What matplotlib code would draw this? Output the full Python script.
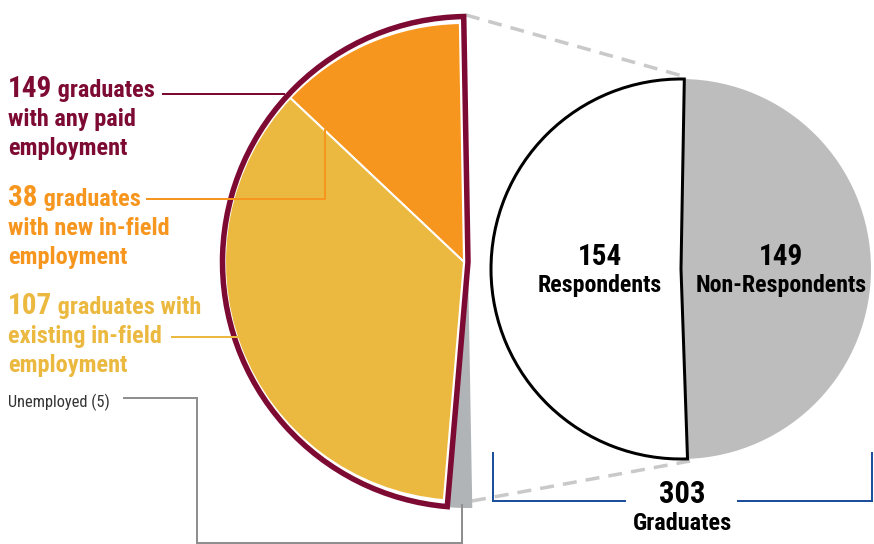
import matplotlib
matplotlib.use("Agg")
import matplotlib.pyplot as plt
from matplotlib import font_manager
from matplotlib.patches import Wedge

# %% data
total_graduates = 303
response_labels = ["Respondents", "Non-Respondents"]
response_counts = [154, 149]
employed_count = 149
infield_labels = ["new in-field", "existing in-field"]
infield_counts = [38, 107]
unemployed_count = 5

# %% style
names = {f.name for f in font_manager.fontManager.ttflist}
wanted = ["Roboto Condensed", "Archivo Narrow", "PT Sans Narrow", "Fira Sans Condensed",
          "Barlow Condensed", "IBM Plex Sans Condensed", "Liberation Sans Narrow"]
narrow = next((n for n in wanted if n in names), "DejaVu Sans")
plt.rcParams["font.family"] = [narrow, "DejaVu Sans"]

MAROON = "#7d0a33"
ORANGE = "#f7961e"
GOLD = "#ecb940"
SLIVER = "#b1b4b7"
NONRESP = "#bdbdbd"
BLUE = "#1c4f9c"
DASH = "#c9c9c9"
LINEGRAY = "#8f8f8f"

W, H = 874, 544
PT = 0.72  # px -> pt at dpi 100


def Y(y):
    return H - y


fig = plt.figure(figsize=(W / 100, H / 100), dpi=100)
ax = fig.add_axes([0, 0, 1, 1])
ax.set_xlim(0, W)
ax.set_ylim(0, H)
ax.axis("off")

# %% connector dashes between the two pies
ax.plot([466, 686], [Y(15), Y(77)], color=DASH, lw=3.5 * PT, dashes=(4, 2.6), zorder=1)
ax.plot([472, 690], [Y(501), Y(461)], color=DASH, lw=3.5 * PT, dashes=(4, 2.6), zorder=1)

# %% right pie: respondents vs non-respondents
rc = (681, Y(269))
rr = 190
r_start = 89
resp_span = response_counts[0] / total_graduates * 360
ax.add_patch(Wedge(rc, rr, r_start + resp_span, r_start + 360, facecolor=NONRESP,
                   edgecolor="none", zorder=2))
ax.add_patch(Wedge(rc, rr, r_start, r_start + resp_span, facecolor="white",
                   edgecolor="black", lw=3 * PT, zorder=3))

for x, n, lab in [(600, response_counts[0], response_labels[0]),
                  (781, response_counts[1], response_labels[1])]:
    ax.text(x, Y(265), str(n), ha="center", va="baseline",
            fontsize=21, fontweight="bold", zorder=5)
    ax.text(x, Y(292), lab, ha="center", va="baseline",
            fontsize=17.2, fontweight="bold", zorder=5)

# %% left pie: breakdown of respondents
lc = (464, Y(262))
lr = 239
l_start = 91
deg = 180 / response_counts[0]
emp_span = employed_count * deg
new_span = emp_span * infield_counts[0] / sum(infield_counts)

ax.add_patch(Wedge((lc[0] + 4, lc[1]), lr + 7, l_start + emp_span,
                   l_start + response_counts[0] * deg, facecolor=SLIVER,
                   edgecolor="none", zorder=2))
ax.add_patch(Wedge(lc, lr, l_start, l_start + new_span, facecolor=ORANGE,
                   edgecolor="white", lw=2 * PT, zorder=3))
ax.add_patch(Wedge(lc, lr, l_start + new_span, l_start + emp_span, facecolor=GOLD,
                   edgecolor="white", lw=2 * PT, zorder=3))
# employed outline sits a few px outside the fills, leaving a white gap
ax.add_patch(Wedge((lc[0] + 4, lc[1]), lr + 6.5, l_start, l_start + emp_span,
                   facecolor="none", edgecolor=MAROON, lw=5.5 * PT,
                   joinstyle="miter", zorder=4))

# %% left labels
def label(lines, top_y, color, big, gap=29):
    num = ax.text(8, Y(top_y), big, color=color, fontsize=21, fontweight="bold",
                  va="baseline", ha="left")
    ax.annotate(" " + lines[0], xy=(1, Y(top_y)), xycoords=(num, "data"),
                color=color, fontsize=17.5, fontweight="bold", va="baseline", ha="left")
    for i, ln in enumerate(lines[1:], start=1):
        ax.text(8, Y(top_y + gap * i), ln, color=color, fontsize=17.5,
                fontweight="bold", va="baseline", ha="left")


label(["graduates", "with any paid", "employment"], 97, MAROON, str(employed_count))
label(["graduates", "with new in-field", "employment"], 206, ORANGE, str(infield_counts[0]))
label(["graduates with", "existing in-field", "employment"], 314, GOLD, str(infield_counts[1]))

ax.plot([163, 284], [Y(94), Y(94)], color=MAROON, lw=2 * PT, zorder=5)
ax.plot([147, 325, 325], [Y(199), Y(199), Y(130)], color=ORANGE, lw=2 * PT, zorder=5)
ax.plot([172, 238], [Y(337), Y(337)], color=GOLD, lw=2 * PT, zorder=5)

ax.text(8, Y(407), f"Unemployed ({unemployed_count})", color="#333333", fontsize=11.8,
        va="baseline", ha="left")
ax.plot([124, 197, 197, 462, 462], [Y(398), Y(398), Y(543), Y(543), Y(505)],
        color=LINEGRAY, lw=2 * PT, zorder=5, solid_joinstyle="miter")

# %% total bracket
ax.plot([493, 493, 625], [Y(453), Y(501), Y(501)], color=BLUE, lw=2 * PT,
        solid_joinstyle="miter")
ax.plot([738, 872, 872], [Y(501), Y(501), Y(453)], color=BLUE, lw=2 * PT,
        solid_joinstyle="miter")
ax.text(682, Y(503), str(total_graduates), ha="center", va="baseline",
        fontsize=22, fontweight="bold")
ax.text(682, Y(530), "Graduates", ha="center", va="baseline",
        fontsize=17.5, fontweight="bold")

fig.savefig("out.png", dpi=100)
